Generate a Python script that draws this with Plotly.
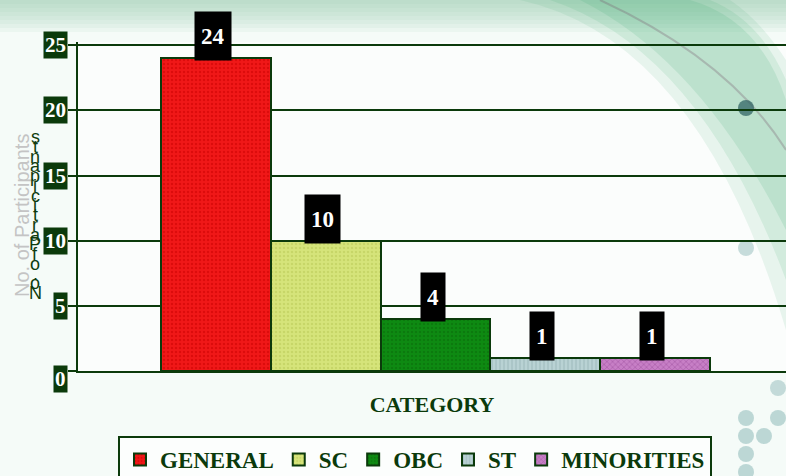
import plotly.graph_objects as go

categories = ["GENERAL", "SC", "OBC", "ST", "MINORITIES"]
values = [24, 10, 4, 1, 1]
colors = ["#f01818", "#d6e47a", "#0e8a12", "#b9d2d4", "#c77fc6"]
patterns = [".", ".", ".", "|", "x"]
pattern_fg = ["#c80000", "#b8c855", "#0a6a0a", "#8aa8aa", "#8a3a8a"]
y_ticks = [0, 5, 10, 15, 20, 25]
y_title = "No. of Participants"
x_title = "CATEGORY"

DARK = "#0b3a0b"
SERIF = "Liberation Serif"

W, H = 786, 476
ML, MR, MT, MB = 78, 0, 42, 105
plot_h = H - MT - MB
plot_w = W - ML - MR
y_max = 25.25


def px_x(px):
    return (px - ML) / plot_w


def px_y(py):
    return (MT + plot_h - py) / plot_h


fig = go.Figure()
for cat, val, col, pat, pfg in zip(categories, values, colors, patterns, pattern_fg):
    fig.add_trace(go.Bar(
        x=[cat], y=[val], name="<b>%s</b>" % cat, width=1,
        marker=dict(color=col, line=dict(color=DARK, width=2),
                    pattern=dict(shape=pat, fgcolor=pfg, size=4, solidity=0.3)),
    ))

annotations = []
for cat, val in zip(categories, values):
    annotations.append(dict(
        x=cat, y=val, xref="x", yref="y", text="<b>%d</b>" % val,
        showarrow=False, yanchor="bottom", yshift=-3, xshift=-3, height=36,
        bgcolor="black", borderpad=6,
        font=dict(family=SERIF, size=23, color="white"),
    ))
for t in y_ticks:
    annotations.append(dict(
        x=0, y=t, xref="paper", yref="y", text="<b>%d</b>" % t,
        showarrow=False, xanchor="right", xshift=-10, yshift=-8 if t == 0 else 0,
        bgcolor=DARK, borderpad=1,
        font=dict(family=SERIF, size=21, color="white"),
    ))
annotations.append(dict(
    x=px_x(22), y=px_y(215), xref="paper", yref="paper",
    xanchor="center", yanchor="middle",
    text=y_title, textangle=-90, showarrow=False,
    font=dict(family="Liberation Sans", size=20, color="#c4c4c4"),
))
chars = [c for c in reversed(y_title) if c != " "]
top_px, bot_px = 137, 293
step = (bot_px - top_px) / (len(chars) - 1)
for i, c in enumerate(chars):
    annotations.append(dict(
        x=px_x(35), y=px_y(top_px + i * step),
        xref="paper", yref="paper", text=c, showarrow=False,
        xanchor="center", yanchor="middle",
        font=dict(family="Liberation Sans", size=18, color="#0f3d0f"),
    ))

shapes = []
for k in range(8):
    shapes.append(dict(type="rect", xref="paper", yref="paper",
                       x0=px_x(0), x1=px_x(W), y0=px_y(4 * k + 4), y1=px_y(0),
                       fillcolor="rgba(140,205,170,0.09)", line=dict(width=0), layer="below"))
for k, op in enumerate([0.10, 0.12, 0.14]):
    shapes.append(dict(type="path", xref="paper", yref="paper", layer="below",
                       path="M %f,%f Q %f,%f %f,%f L %f,%f Q %f,%f %f,%f Z" % (
                           px_x(520 + 30 * k), px_y(0), px_x(700), px_y(40 + 10 * k),
                           px_x(786), px_y(330 - 50 * k),
                           px_x(786), px_y(60 + 20 * k), px_x(760), px_y(20), px_x(730 - 20 * k), px_y(0)),
                       fillcolor="rgba(60,170,110,%.2f)" % op, line=dict(width=0)))
shapes.append(dict(type="path", xref="paper", yref="paper", layer="below",
                   path="M %f,%f Q %f,%f %f,%f" % (
                       px_x(600), px_y(0), px_x(730), px_y(60), px_x(786), px_y(150)),
                   line=dict(color="rgba(120,90,110,0.3)", width=2)))
for cx, cy, r, c in [(746, 108, 8, "rgba(50,100,100,0.75)"), (746, 248, 8, "rgba(120,170,170,0.4)"),
                     (778, 388, 8, "rgba(120,170,170,0.4)"), (746, 418, 8, "rgba(120,170,170,0.45)"),
                     (764, 436, 8, "rgba(120,170,170,0.45)"), (746, 436, 8, "rgba(120,170,170,0.45)"),
                     (746, 454, 8, "rgba(120,170,170,0.45)"), (778, 418, 8, "rgba(120,170,170,0.45)"),
                     (746, 472, 8, "rgba(120,170,170,0.45)")]:
    shapes.append(dict(type="circle", xref="paper", yref="paper",
                       x0=px_x(cx - r), x1=px_x(cx + r), y0=px_y(cy + r), y1=px_y(cy - r),
                       fillcolor=c, line=dict(width=0), layer="below"))

fig.update_layout(
    width=W, height=H,
    margin=dict(l=ML, r=MR, t=MT, b=MB, autoexpand=False),
    paper_bgcolor="#f5fbf8",
    plot_bgcolor="rgba(255,255,255,0.6)",
    barmode="overlay",
    bargap=0,
    xaxis=dict(
        categoryorder="array", categoryarray=categories,
        range=[-1.2545, 5.19], showticklabels=False, ticks="",
        showgrid=False, showline=True, linecolor=DARK, linewidth=2,
        zeroline=False, automargin=False,
        title=dict(text="<b>%s</b>" % x_title, standoff=25,
                   font=dict(family=SERIF, size=22, color=DARK)),
    ),
    yaxis=dict(
        range=[0, y_max], tickvals=y_ticks, showticklabels=False,
        ticks="outside", ticklen=8, tickcolor=DARK, tickwidth=2,
        showgrid=True, gridcolor=DARK, gridwidth=2, automargin=False,
        showline=True, linecolor=DARK, linewidth=2, zeroline=False,
    ),
    legend=dict(
        orientation="h", xref="container", x=415 / W, xanchor="center",
        yref="container", y=1 - 436 / H, yanchor="top",
        bgcolor="rgba(255,255,255,0.7)", bordercolor=DARK, borderwidth=2,
        font=dict(family=SERIF, size=23, color=DARK),
        itemwidth=30, traceorder="normal",
    ),
    annotations=annotations,
    shapes=shapes,
)

fig.write_html("out.html", config={"displayModeBar": False},
               post_script="document.body.style.margin='0';document.body.style.overflow='hidden';")
